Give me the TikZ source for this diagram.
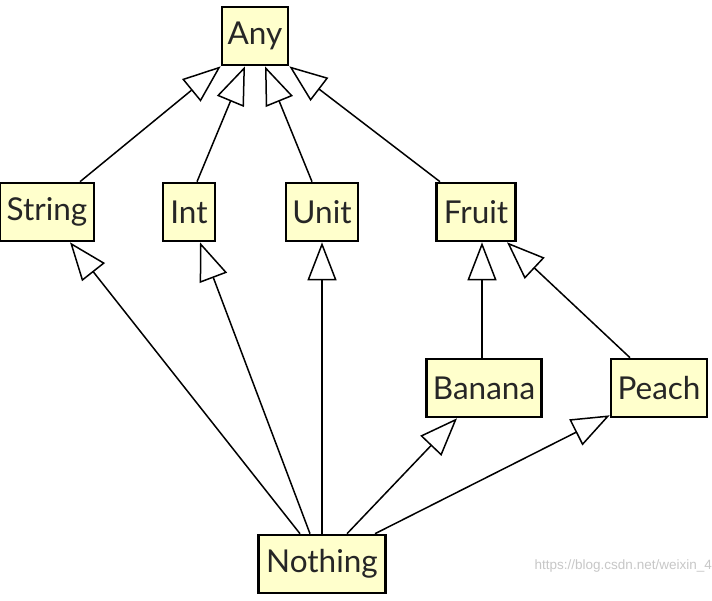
\documentclass[tikz,border=0pt]{standalone}
\usepackage{fontspec}
\setmainfont{Lato}
\newfontfamily\wmfont{Liberation Sans}
\usetikzlibrary{arrows.meta}
\definecolor{boxfill}{RGB}{255,255,204}
\tikzset{
  cls/.style={draw=black, line width=2.6pt, fill=boxfill, minimum height=58pt, inner xsep=4pt, inner ysep=0pt, font=\fontsize{31.5}{33}\selectfont, text=black!85},
  inh/.style={line width=1.5pt, -{Triangle[open, length=38pt, width=29pt]}}
}
\begin{document}
\begin{tikzpicture}[x=1pt,y=1pt]
\useasboundingbox[fill=white] (0,-600) rectangle (712,0);
\node[cls, minimum width=66pt] (any) at (255,-36) {Any};
\node[cls, minimum width=94pt] (string) at (47,-212) {String};
\node[cls, minimum width=52pt] (int) at (189,-212) {Int};
\node[cls, minimum width=72pt] (unit) at (322,-212) {Unit};
\node[cls, minimum width=79pt] (fruit) at (476,-212) {Fruit};
\node[cls, minimum width=115pt] (banana) at (484,-388) {Banana};
\node[cls, minimum width=96pt] (peach) at (659,-388) {Peach};
\node[cls, minimum width=127pt] (nothing) at (322,-564) {Nothing};

\draw[inh] ([xshift=33pt]string.north) -- (any.south west);
\draw[inh] ([xshift=8pt]int.north) -- ([xshift=-10pt]any.south);
\draw[inh] ([xshift=-10pt]unit.north) -- ([xshift=10pt]any.south);
\draw[inh] ([xshift=-36pt]fruit.north) -- (any.south east);

\draw[inh] ([xshift=-22pt]nothing.north) -- ([xshift=23pt]string.south);
\draw[inh] ([xshift=-12pt]nothing.north) -- ([xshift=11pt]int.south);
\draw[inh] (nothing.north) -- (unit.south);
\draw[inh] ([xshift=25pt]nothing.north) -- ([xshift=-27pt]banana.south);
\draw[inh] ([xshift=53pt]nothing.north) -- ([yshift=3pt]peach.south west);

\draw[inh] ([xshift=-2pt]banana.north) -- ([xshift=6pt]fruit.south);
\draw[inh] ([xshift=-29pt]peach.north) -- ([xshift=31pt]fruit.south);

\node[anchor=east, inner sep=0pt, text=black!22, font=\wmfont\fontsize{13.5}{16}\selectfont] (wm) at (712,-566) {https://blog.csdn.net/weixin\_4};
\end{tikzpicture}
\end{document}
